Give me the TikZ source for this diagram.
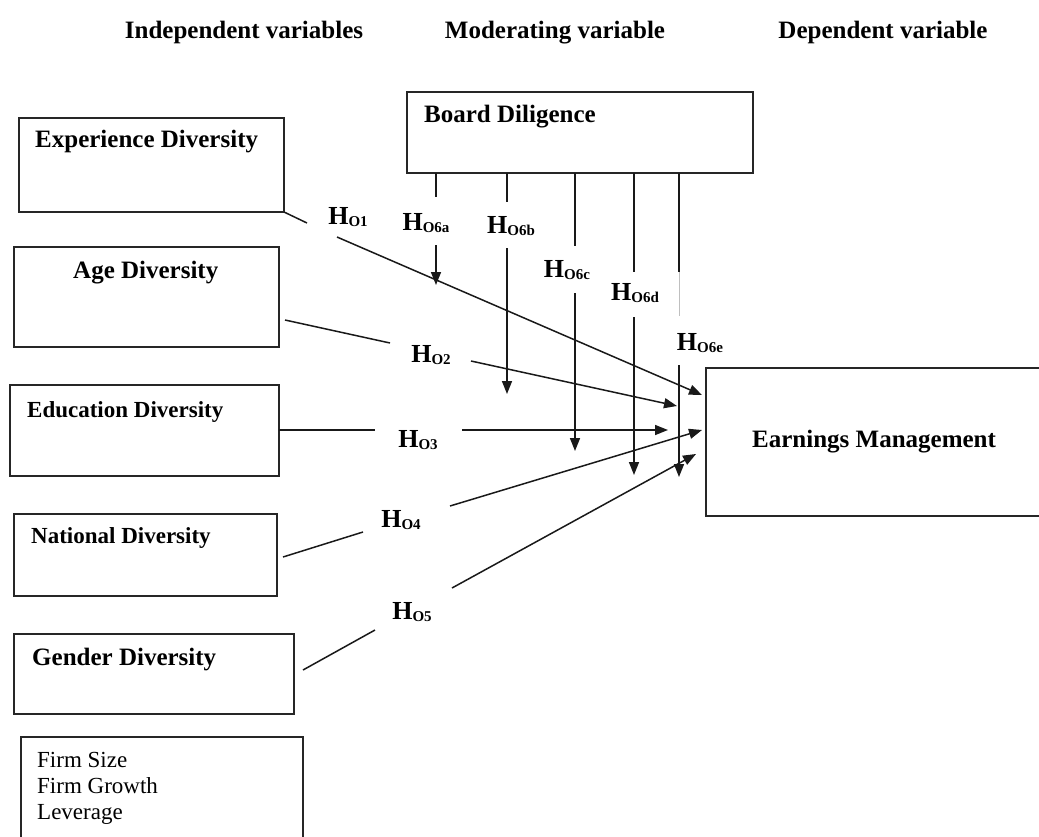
\documentclass[tikz,border=0pt]{standalone}
\usepackage{fontspec}
\setmainfont{Liberation Serif}
\usetikzlibrary{arrows.meta}
\newcommand{\hsub}[1]{H\raisebox{-2pt}{\fontsize{15}{15}\selectfont #1}}
\begin{document}
\begin{tikzpicture}[x=1pt,y=-1pt,
  box/.style={draw=black!85, line width=1.5pt, inner sep=0pt, outer sep=0pt, anchor=north west},
  openbox/.style={inner sep=0pt, outer sep=0pt, anchor=north west},
  boxline/.style={draw=black!85, line width=1.5pt},
  conn/.style={line width=1.5pt, draw=black!90},
  arr/.style={conn, -{Triangle[length=13pt,width=10pt]}},
  head/.style={font=\bfseries\fontsize{25}{25}\selectfont, anchor=base, inner sep=0pt},
  lbl/.style={font=\bfseries\fontsize{25}{25}\selectfont, anchor=base west, inner sep=0pt},
  lbls/.style={font=\bfseries\fontsize{23}{23}\selectfont, anchor=base west, inner sep=0pt},
  ctltext/.style={font=\fontsize{23}{26}\selectfont, anchor=base west, inner sep=0pt},
  hyp/.style={font=\bfseries\fontsize{26}{26}\selectfont, inner sep=0pt, anchor=center}]

\useasboundingbox (0,0) rectangle (1039,836);

% headers
\node[head] (hi) at (244,38) {Independent variables};
\node[head] (hm) at (555,38) {Moderating variable};
\node[head] (hd) at (883,38) {Dependent variable};

% boxes
\node[box, minimum width=265pt, minimum height=94pt] (exp) at (19,118) {};
\node[lbl] (expt) at (35,147) {Experience Diversity};
\node[box, minimum width=265pt, minimum height=100pt] (age) at (14,247) {};
\node[lbl] (aget) at (73,278) {Age Diversity};
\node[box, minimum width=269pt, minimum height=91pt] (edu) at (10,385) {};
\node[lbls] (edut) at (27,417) {Education Diversity};
\node[box, minimum width=263pt, minimum height=82pt] (nat) at (14,514) {};
\node[lbls] (natt) at (31,543) {National Diversity};
\node[box, minimum width=280pt, minimum height=80pt] (gen) at (14,634) {};
\node[lbl] (gent) at (32,665) {Gender Diversity};
\node[box, minimum width=346pt, minimum height=81pt] (bd) at (407,92) {};
\node[lbl] (bdt) at (424,122) {Board Diligence};

% open boxes
\node[openbox, minimum width=282pt, minimum height=115pt] (ctl) at (21,737) {};
\draw[boxline] (ctl.south west) -- (ctl.north west) -- (ctl.north east) -- (ctl.south east);
\node[ctltext] (c1) at (37,767) {Firm Size};
\node[ctltext] (c2) at (37,793) {Firm Growth};
\node[ctltext] (c3) at (37,819) {Leverage};

\node[openbox, minimum width=345pt, minimum height=148pt] (em) at (706,368) {};
\draw[boxline] (em.north east) -- (em.north west) -- (em.south west) -- (em.south east);
\node[lbl] (emt) at (752,447) {Earnings Management};

% hypothesis labels
\node[hyp] (h1) at (348,217) {\hsub{O1}};
\node[hyp] (h2) at (431,355) {\hsub{O2}};
\node[hyp] (h3) at (418,440) {\hsub{O3}};
\node[hyp] (h4) at (401,520) {\hsub{O4}};
\node[hyp] (h5) at (412,612) {\hsub{O5}};
\node[hyp] (h6a) at (426,223) {\hsub{O6a}};
\node[hyp] (h6b) at (511,226) {\hsub{O6b}};
\node[hyp] (h6c) at (567,270) {\hsub{O6c}};
\node[hyp] (h6d) at (635,293) {\hsub{O6d}};
\node[hyp] (h6e) at (700,343) {\hsub{O6e}};

% coordinates
\coordinate (a1) at (307,223); \coordinate (b1) at (337,237); \coordinate (t1) at (702,395);
\coordinate (a2s) at (285,320); \coordinate (a2) at (390,343); \coordinate (b2) at (471,361); \coordinate (t2) at (677,406);
\coordinate (a3s) at (279,430); \coordinate (a3) at (375,430); \coordinate (b3) at (462,430); \coordinate (t3) at (668,430);
\coordinate (a4s) at (283,557); \coordinate (a4) at (363,532); \coordinate (b4) at (450,506); \coordinate (t4) at (702,430);
\coordinate (a5s) at (303,670); \coordinate (a5) at (375,630); \coordinate (b5) at (452,588); \coordinate (t5) at (696,454);

\coordinate (sa) at (436,173); \coordinate (ea) at (436,197); \coordinate (ba) at (436,245); \coordinate (ta) at (436,285);
\coordinate (sb) at (507,173); \coordinate (eb) at (507,202); \coordinate (bb) at (507,248); \coordinate (tb) at (507,394);
\coordinate (sc) at (575,173); \coordinate (ec) at (575,246); \coordinate (bc) at (575,293); \coordinate (tc) at (575,451);
\coordinate (sd) at (634,173); \coordinate (ed) at (634,272); \coordinate (bd2) at (634,317); \coordinate (td) at (634,475);
\coordinate (se) at (679,173); \coordinate (ee) at (679,272); \coordinate (fe) at (679,316); \coordinate (be) at (679,365); \coordinate (te) at (679,477);

% main paths
\draw[conn] (exp.south east) -- (a1);
\draw[arr] (b1) -- (t1);
\draw[conn] (a2s) -- (a2);
\draw[arr] (b2) -- (t2);
\draw[conn] (a3s) -- (a3);
\draw[arr] (b3) -- (t3);
\draw[conn] (a4s) -- (a4);
\draw[arr] (b4) -- (t4);
\draw[conn] (a5s) -- (a5);
\draw[arr] (b5) -- (t5);

% moderating paths
\draw[conn] (sa) -- (ea); \draw[arr] (ba) -- (ta);
\draw[conn] (sb) -- (eb); \draw[arr] (bb) -- (tb);
\draw[conn] (sc) -- (ec); \draw[arr] (bc) -- (tc);
\draw[conn] (sd) -- (ed); \draw[arr] (bd2) -- (td);
\draw[conn] (se) -- (ee); \draw[line width=0.8pt, black!25] (ee) -- (fe); \draw[arr] (be) -- (te);
\end{tikzpicture}
\end{document}
